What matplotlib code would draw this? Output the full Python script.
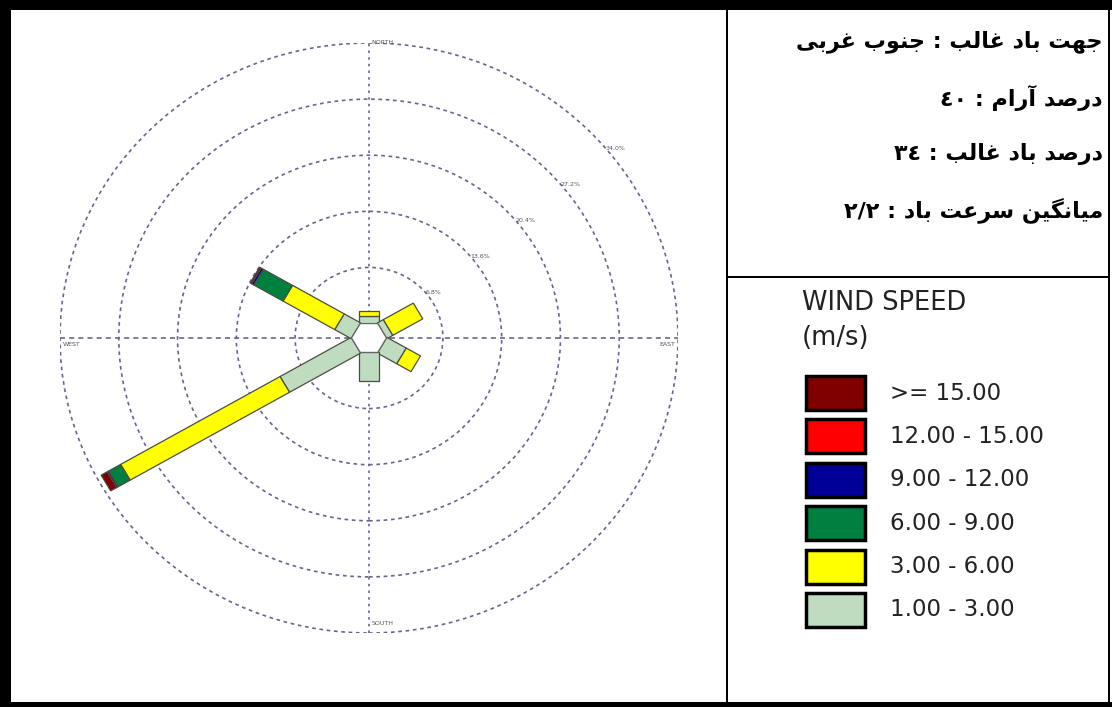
import numpy as np
import matplotlib.pyplot as plt
from matplotlib.patches import Rectangle, Polygon, Circle

# ---------------------------------------------------------
# Data
# ---------------------------------------------------------
directions = [0, 60, 120, 180, 240, 300]  # compass bearing of each sector
bin_labels = [">= 15.00", "12.00 - 15.00", "9.00 - 12.00",
              "6.00 - 9.00", "3.00 - 6.00", "1.00 - 3.00"]
bin_colors = ["#800000", "#ff0000", "#000099", "#008040", "#ffff00", "#c0dcc0"]

# frequency (%) per direction, one list per speed class (slowest first)
freq_1_3 = [0.9, 0.8, 2.6, 3.5, 9.5, 2.2]
freq_3_6 = [0.6, 4.0, 1.9, 0.0, 21.3, 6.9]
freq_6_9 = [0.0, 0.0, 0.0, 0.0, 1.6, 3.9]
freq_9_12 = [0.0, 0.0, 0.0, 0.0, 0.2, 0.3]
freq_12_15 = [0.0, 0.0, 0.0, 0.0, 0.0, 0.0]
freq_15 = [0.0, 0.0, 0.0, 0.0, 0.8, 0.2]

ring_levels = [6.8, 13.6, 20.4, 27.2, 34.0]
ring_labels = ["6.8%", "13.6%", "20.4%", "27.2%", "34.0%"]

info_lines = [
    "جهت باد غالب : جنوب غربی",
    "درصد آرام : ٤٠",
    "درصد باد غالب : ٣٤",
    "میانگین سرعت باد : ٢/٢",
]

# ---------------------------------------------------------
# Minimal Arabic/Persian shaping (matplotlib has no shaping)
# ---------------------------------------------------------
FORMS = {
    "ا": (0xFE8D, 0xFE8E), "آ": (0xFE81, 0xFE82), "د": (0xFEA9, 0xFEAA),
    "ر": (0xFEAD, 0xFEAE), "و": (0xFEED, 0xFEEE),
    "ب": (0xFE8F, 0xFE90, 0xFE91, 0xFE92), "ت": (0xFE95, 0xFE96, 0xFE97, 0xFE98),
    "ج": (0xFE9D, 0xFE9E, 0xFE9F, 0xFEA0), "س": (0xFEB1, 0xFEB2, 0xFEB3, 0xFEB4),
    "ص": (0xFEB9, 0xFEBA, 0xFEBB, 0xFEBC), "ع": (0xFEC9, 0xFECA, 0xFECB, 0xFECC),
    "غ": (0xFECD, 0xFECE, 0xFECF, 0xFED0), "ل": (0xFEDD, 0xFEDE, 0xFEDF, 0xFEE0),
    "م": (0xFEE1, 0xFEE2, 0xFEE3, 0xFEE4), "ن": (0xFEE5, 0xFEE6, 0xFEE7, 0xFEE8),
    "ه": (0xFEE9, 0xFEEA, 0xFEEB, 0xFEEC), "ی": (0xFBFC, 0xFBFD, 0xFBFE, 0xFBFF),
    "گ": (0xFB92, 0xFB93, 0xFB94, 0xFB95),
}


def shape(text):
    out = []
    for i, ch in enumerate(text):
        if ch not in FORMS:
            out.append(ch)
            continue
        prev = text[i - 1] if i > 0 else ""
        nxt = text[i + 1] if i + 1 < len(text) else ""
        f = FORMS[ch]
        j_prev = prev in FORMS and len(FORMS[prev]) == 4
        j_next = len(f) == 4 and nxt in FORMS
        if j_prev and j_next:
            code = f[3]
        elif j_prev:
            code = f[1]
        elif j_next:
            code = f[2]
        else:
            code = f[0]
        out.append(chr(code))
    # visual order: reverse, but keep digit runs left-to-right
    vis = "".join(out)[::-1]
    res, run = [], ""
    for ch in vis:
        if ch.isdigit() or (run and ch == "/"):
            run += ch
        else:
            res.append(run[::-1])
            run = ""
            res.append(ch)
    res.append(run[::-1])
    return "".join(res)


# ---------------------------------------------------------
# Figure
# ---------------------------------------------------------
W, H = 1112, 707
fig = plt.figure(figsize=(W / 100, H / 100), dpi=100)


def fx(px):
    return px / W


def fy(py):
    return 1 - py / H


# frame / table borders
for x0, y0, x1, y1 in [(0, 0, W, 10), (0, 0, 11, H), (0, 702, W, H),
                       (1108, 0, 1110, H), (726, 0, 728, H), (727, 276, 1110, 278)]:
    fig.add_artist(Rectangle((fx(x0), fy(y1)), fx(x1) - fx(x0), fy(y0) - fy(y1),
                             transform=fig.transFigure, color="black", lw=0))

# wind rose axes
r0 = 1.75      # hexagon apothem (calm circle)
bar_w = 2.2
R = r0 + ring_levels[-1]
ax = fig.add_axes([fx(60), fy(633), fx(678) - fx(60), fy(43) - fy(633)])
ax.set_xlim(-R, R)
ax.set_ylim(-R, R)
ax.axis("off")

grid_col = "#66668f"
for lv in ring_levels:
    ax.add_patch(Circle((0, 0), r0 + lv, fill=False, ec=grid_col, lw=1.2,
                        ls=(0, (2.2, 2.2)), zorder=1))
ax.plot([-R, R], [0, 0], color=grid_col, lw=1.2, ls=(0, (3, 2.5)), zorder=1)
ax.plot([0, 0], [-R, R], color=grid_col, lw=1.2, ls=(0, (1.5, 2.5)), zorder=1)

bins = [freq_1_3, freq_3_6, freq_6_9, freq_9_12, freq_12_15, freq_15]
colors_slow_first = bin_colors[::-1]
for k, d in enumerate(directions):
    th = np.radians(d)
    u = np.array([np.sin(th), np.cos(th)])
    p = np.array([np.cos(th), -np.sin(th)]) * bar_w / 2
    start = r0
    for vals, col in zip(bins, colors_slow_first):
        v = vals[k]
        if v <= 0:
            continue
        a, b = start * u, (start + v) * u
        ax.add_patch(Polygon([a + p, b + p, b - p, a - p], closed=True,
                             fc=col, ec="#4d4d40", lw=0.9, zorder=3))
        start += v

ang = np.radians(np.arange(0, 360, 60))
hex_r = r0 * 2 / np.sqrt(3)
ax.add_patch(Polygon(np.c_[hex_r * np.cos(ang), hex_r * np.sin(ang)], closed=True,
                     fc="white", ec="#666666", lw=0.9, zorder=4))

lab_th = np.radians(50)
for lv, lab in zip(ring_levels, ring_labels):
    rr = r0 + lv
    ax.text(rr * np.sin(lab_th), rr * np.cos(lab_th), lab, fontsize=4.5,
            color="#555555", ha="left", va="center", zorder=2)

ax.text(0.3, R, "NORTH", fontsize=4.5, color="#555555", ha="left", va="center")
ax.text(-R + 0.3, -0.5, "WEST", fontsize=4.5, color="#555555", ha="left", va="top")
ax.text(R - 0.3, -0.5, "EAST", fontsize=4.5, color="#555555", ha="right", va="top")
ax.text(0.3, -R + 0.8, "SOUTH", fontsize=4.5, color="#555555", ha="left", va="bottom")

# Persian summary text
for line, py in zip(info_lines, [42, 98, 154, 210]):
    fig.text(fx(1103), fy(py), shape(line), fontsize=16, fontweight="bold",
             family=["DejaVu Sans"], ha="right", va="center")

# legend
fig.text(fx(802), fy(303), "WIND SPEED", fontsize=18.5, color="#222222",
         ha="left", va="center")
fig.text(fx(802), fy(338), "(m/s)", fontsize=18.5, color="#222222",
         ha="left", va="center")
for i, (lab, col) in enumerate(zip(bin_labels, bin_colors)):
    cy = 393 + i * 43.4
    fig.add_artist(Rectangle((fx(806), fy(cy + 17)), fx(865) - fx(806), fy(cy - 17) - fy(cy + 17),
                             transform=fig.transFigure, fc=col, ec="black", lw=2.5))
    fig.text(fx(890), fy(cy), lab, fontsize=16.5, color="#222222", ha="left", va="center")

fig.savefig("out.png", dpi=100)
